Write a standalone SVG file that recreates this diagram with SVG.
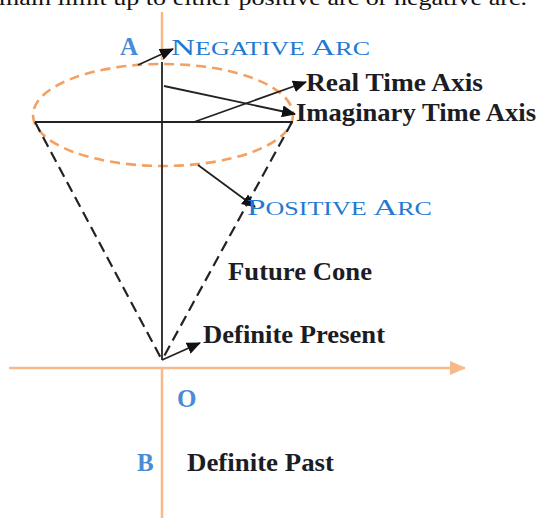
<svg xmlns="http://www.w3.org/2000/svg" width="540" height="518" viewBox="0 0 540 518">
<defs>
<marker id="ah" viewBox="0 0 14 12" refX="13" refY="6" markerWidth="14" markerHeight="12" orient="auto" markerUnits="userSpaceOnUse">
<path d="M0,0 L14,6 L0,12 Z" fill="#111"/>
</marker>
<marker id="oh" viewBox="0 0 16 14" refX="15" refY="7" markerWidth="16" markerHeight="14" orient="auto" markerUnits="userSpaceOnUse">
<path d="M0,0 L16,7 L0,14 Z" fill="#f8b98a"/>
</marker>
<style>
.lbl{font-family:"Liberation Serif","Times New Roman",serif;font-weight:bold;font-size:26px;fill:#1c1c24}
.blue{font-family:"Liberation Serif","Times New Roman",serif;fill:#1f7ad2}
.bl{font-family:"Liberation Serif","Times New Roman",serif;font-weight:bold;font-size:25px;fill:#4a8bd6}
.axis{stroke:#f8b98a;stroke-width:2.5;fill:none}
.solid{stroke:#222;stroke-width:1.8;fill:none}
.dash{stroke:#222;stroke-width:2.2;stroke-dasharray:11 6;fill:none}
.arc{stroke:#f5a060;stroke-width:2.6;stroke-dasharray:10 6;fill:none}
.arr{stroke:#222;stroke-width:1.8;fill:none;marker-end:url(#ah)}
</style>
</defs>
<text x="-1" y="5" font-family="Liberation Serif, serif" font-size="21" fill="#111" textLength="528" lengthAdjust="spacingAndGlyphs">main limit up to either positive arc or negative arc.</text>
<g id="axes">
<line class="axis" x1="162" y1="12" x2="162" y2="60"/>
<line class="axis" x1="9" y1="368" x2="465" y2="368" marker-end="url(#oh)"/>
<line class="axis" x1="162" y1="368" x2="162" y2="518"/>
</g>
<g id="cone">
<ellipse class="arc" cx="163" cy="115" rx="130" ry="51"/>
<line class="solid" x1="35" y1="122" x2="293" y2="122"/>
<line class="solid" x1="162" y1="62" x2="162" y2="360"/>
<line class="dash" x1="35" y1="122" x2="162" y2="360"/>
<line class="dash" x1="292" y1="122" x2="162" y2="360"/>
</g>
<g id="connectors">
<line class="arr" x1="138" y1="65" x2="173" y2="49"/>
<line class="arr" x1="164" y1="86" x2="295" y2="114"/>
<line class="arr" x1="194" y1="122" x2="306" y2="82"/>
<line class="arr" x1="198" y1="165" x2="255" y2="207"/>
<line class="arr" x1="162" y1="360" x2="200" y2="343"/>
</g>
<g id="label-A"><text class="bl" x="120" y="55">A</text></g>
<g id="label-negative"><text class="blue" x="171" y="55" font-size="23" textLength="199" lengthAdjust="spacingAndGlyphs">N<tspan font-size="18">EGATIVE</tspan> A<tspan font-size="18">RC</tspan></text></g>
<g id="label-real"><text class="lbl" x="306" y="91" textLength="177" lengthAdjust="spacingAndGlyphs">Real Time Axis</text></g>
<g id="label-imag"><text class="lbl" x="296" y="121" textLength="240" lengthAdjust="spacingAndGlyphs">Imaginary Time Axis</text></g>
<g id="label-positive"><text class="blue" x="247" y="215" font-size="23" textLength="185" lengthAdjust="spacingAndGlyphs">P<tspan font-size="18">OSITIVE</tspan> A<tspan font-size="18">RC</tspan></text></g>
<g id="label-future"><text class="lbl" x="228" y="280" textLength="144" lengthAdjust="spacingAndGlyphs">Future  Cone</text></g>
<g id="label-present"><text class="lbl" x="203" y="343" textLength="182" lengthAdjust="spacingAndGlyphs">Definite Present</text></g>
<g id="label-O"><text class="bl" x="177" y="407">O</text></g>
<g id="label-B"><text class="bl" x="137" y="471">B</text></g>
<g id="label-past"><text class="lbl" x="187" y="471" textLength="147" lengthAdjust="spacingAndGlyphs">Definite Past</text></g>
</svg>
